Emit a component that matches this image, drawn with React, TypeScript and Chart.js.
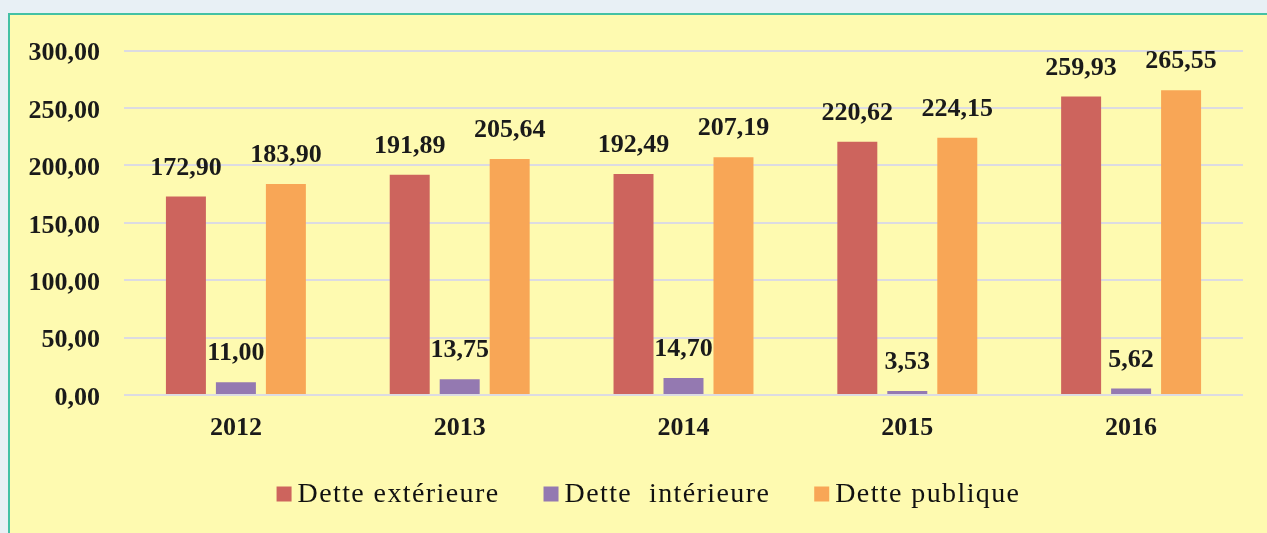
import React, { useEffect, useRef } from "react";
import { Chart, registerables } from "chart.js";

Chart.register(...registerables);

const categories = ["2012", "2013", "2014", "2015", "2016"];
const detteExterieure = [172.9, 191.89, 192.49, 220.62, 259.93];
const detteInterieure = [11.0, 13.75, 14.7, 3.53, 5.62];
const dettePublique = [183.9, 205.64, 207.19, 224.15, 265.55];
const seriesLabels = ["Dette extérieure", "Dette  intérieure", "Dette publique"];
const seriesColors = ["#cd645d", "#9479b1", "#f8a656"];
const yMin = 0;
const yMax = 300;
const yStep = 50;

const FONT = "'Liberation Serif', 'Times New Roman', serif";
const fmt = (v: number) => v.toFixed(2).replace(".", ",");

const valueLabels = {
  id: "valueLabels",
  afterDatasetsDraw(chart: any) {
    const ctx = chart.ctx;
    ctx.save();
    ctx.font = `bold 26px ${FONT}`;
    ctx.fillStyle = "#1a1a1a";
    ctx.textAlign = "center";
    ctx.textBaseline = "alphabetic";
    chart.data.datasets.forEach((ds: any, di: number) => {
      const meta = chart.getDatasetMeta(di);
      meta.data.forEach((el: any, i: number) => {
        ctx.fillText(fmt(ds.data[i]), el.x, el.y - 22);
      });
    });
    ctx.restore();
  },
};

const customLegend = {
  id: "customLegend",
  afterDraw(chart: any) {
    const ctx = chart.ctx;
    ctx.save();
    ctx.font = `28px ${FONT}`;
    try {
      (ctx as any).letterSpacing = "1.4px";
    } catch (e) {}
    const box = 15;
    const boxGap = 6;
    const itemGap = 44;
    const items = chart.data.datasets.map((ds: any) => ({
      text: ds.label as string,
      color: ds.backgroundColor as string,
      w: ctx.measureText(ds.label).width,
    }));
    const total =
      items.reduce((s: number, it: any) => s + box + boxGap + it.w, 0) + itemGap * (items.length - 1);
    let x = chart.width / 2 - total / 2;
    const cy = chart.height - 39;
    ctx.textBaseline = "middle";
    ctx.textAlign = "left";
    items.forEach((it: any) => {
      ctx.fillStyle = it.color;
      ctx.fillRect(x, cy - box / 2, box, box);
      ctx.fillStyle = "#111111";
      ctx.fillText(it.text, x + box + boxGap, cy + 1);
      x += box + boxGap + it.w + itemGap;
    });
    ctx.restore();
  },
};

export default function App() {
  const ref = useRef<HTMLCanvasElement>(null);
  useEffect(() => {
    document.body.style.margin = "0";
    document.body.style.background = "#e8f0f5";
    document.body.style.overflow = "hidden";
    const chart = new Chart(ref.current!, {
      type: "bar",
      data: {
        labels: categories,
        datasets: [
          { label: seriesLabels[0], data: detteExterieure, backgroundColor: seriesColors[0] },
          { label: seriesLabels[1], data: detteInterieure, backgroundColor: seriesColors[1] },
          { label: seriesLabels[2], data: dettePublique, backgroundColor: seriesColors[2] },
        ],
      },
      options: {
        responsive: false,
        animation: false,
        layout: { padding: { top: 35, right: 44, left: 0, bottom: 90 } },
        datasets: { bar: { categoryPercentage: 0.67, barPercentage: 0.8 } },
        scales: {
          x: {
            grid: { display: false, drawTicks: false },
            border: { display: false },
            ticks: { font: { family: FONT, size: 26, weight: "bold" }, color: "#1a1a1a", padding: 18 },
            afterFit(s: any) {
              s.height = 48;
            },
          },
          y: {
            min: yMin,
            max: yMax,
            grid: { color: "#dcdbe2", lineWidth: 2, drawTicks: false },
            border: { display: false },
            ticks: {
              stepSize: yStep,
              callback: (v: any) => fmt(Number(v)),
              font: { family: FONT, size: 26, weight: "bold" },
              color: "#1a1a1a",
              padding: 24,
              labelOffset: 3,
            },
            afterFit(s: any) {
              s.width = 114;
            },
          },
        },
        plugins: {
          legend: { display: false },
          tooltip: { enabled: false },
        },
      },
      plugins: [valueLabels, customLegend],
    } as any);
    return () => chart.destroy();
  }, []);
  return (
    <div
      style={{
        position: "absolute",
        left: 8,
        top: 13,
        width: 1300,
        height: 560,
        background: "#fefab0",
        borderTop: "2px solid #44c1a4",
        borderLeft: "2px solid #44c1a4",
      }}
    >
      <canvas
        ref={ref}
        width={1277}
        height={522}
        style={{ display: "block", position: "relative", top: -4, width: 1277, height: 522 }}
      />
    </div>
  );
}
